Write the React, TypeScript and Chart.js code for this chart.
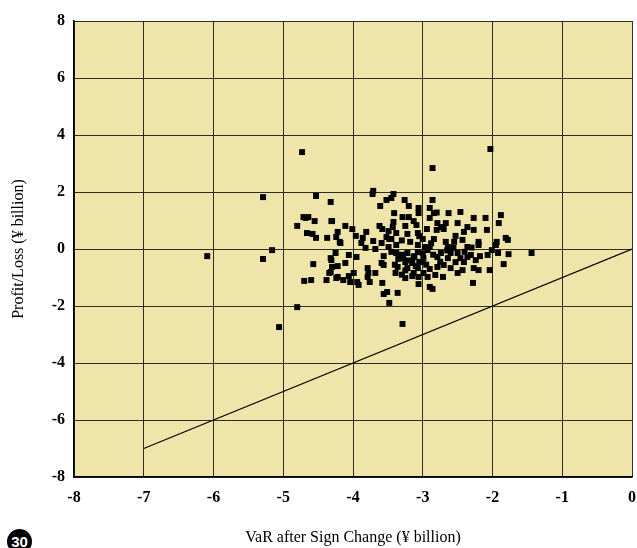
import { useEffect, useRef } from "react";
import { Chart, registerables } from "chart.js";

Chart.register(...registerables);

// VaR after sign change (x, ¥ billion) and daily profit/loss (y, ¥ billion)
const varAfterSignChange = [
  -6.09, -5.29, -5.16, -5.29, -5.06, -4.80, -4.73, -4.53, -4.71, -4.64,
  -4.68, -4.55, -4.80, -4.66, -4.58, -4.53, -4.57, -4.70, -4.60, -4.32,
  -4.31, -4.37, -4.22, -4.24, -4.19, -4.25, -4.31, -4.30, -4.22, -4.34,
  -4.24, -4.38, -2.03, -2.86, -1.44, -3.29,
  -3.71, -3.72, -3.42, -3.45, -3.52, -3.26, -2.86, -3.20, -3.61, -2.90,
  -3.06, -3.06, -3.41, -2.84, -2.80, -2.46, -2.63, -1.88, -2.90, -3.29,
  -3.20, -2.27, -2.10, -3.13, -3.42, -2.50, -1.91, -2.79, -2.67, -4.30,
  -3.09, -3.62, -3.25, -3.43, -2.74, -4.11, -4.01, -3.58, -2.36, -2.27,
  -2.08, -2.41, -3.81, -3.49, -3.38, -3.22, -3.07, -2.94, -2.80, -2.70,
  -3.96, -3.86, -3.52, -3.45, -3.00, -2.84, -2.53, -2.43, -1.81, -1.94,
  -4.18, -3.71, -3.59, -3.48, -3.88, -2.67, -2.20, -2.20, -1.95, -3.82,
  -3.68, -3.49, -3.38, -3.07, -2.97, -2.90, -2.64, -2.56, -2.36, -4.32,
  -3.95, -4.06, -3.56, -3.38, -3.22, -3.07, -2.93, -2.74, -2.60, -2.50,
  -2.31, -2.18, -2.07, -1.92, -1.77, -2.01, -3.13, -3.28, -2.99, -2.79,
  -2.64, -2.46, -2.36, -2.24, -4.11, -3.59, -3.56, -3.25, -3.15, -3.00,
  -2.53, -2.41, -1.84, -3.36, -3.22, -3.07, -2.79, -2.70, -2.60, -2.43,
  -2.27, -2.20, -2.04, -3.79, -4.32, -3.78, -3.68, -3.99, -4.06, -4.22,
  -3.39, -3.13, -2.99, -2.82, -2.50, -3.79, -3.25, -3.06, -2.93, -2.71,
  -4.14, -4.04, -3.94, -3.92, -3.76, -3.58, -3.06, -2.28, -2.90, -2.86,
  -3.51, -3.56, -3.36, -3.48, -1.78,
  -3.30, -3.20, -3.10, -3.25, -3.15, -3.05, -2.95, -3.35, -3.40, -3.30,
  -2.85, -2.75, -3.00, -2.90, -3.12, -3.45, -3.18, -2.88, -2.65, -2.55,
  -2.40, -2.30, -3.05, -3.30,
];

const profitLoss = [
  -0.25, 1.82, -0.04, -0.35, -2.74, -2.04, 3.40, 1.86, 1.12, 1.12,
  1.09, 0.98, 0.81, 0.56, 0.53, 0.39, -0.53, -1.12, -1.09, 1.65,
  0.98, 0.39, 0.60, 0.42, 0.25, -0.14, -0.39, -0.63, -0.60, -0.84,
  -1.02, -1.09, 3.51, 2.84, -0.14, -2.63,
  2.04, 1.93, 1.93, 1.79, 1.72, 1.72, 1.72, 1.51, 1.51, 1.44,
  1.44, 1.26, 1.26, 1.26, 1.28, 1.30, 1.26, 1.19, 1.09, 1.12,
  1.12, 1.09, 1.09, 0.98, 0.95, 0.91, 0.91, 0.91, 0.91, 0.98,
  0.84, 0.81, 0.81, 0.77, 0.77, 0.81, 0.70, 0.70, 0.77, 0.67,
  0.67, 0.60, 0.60, 0.63, 0.56, 0.53, 0.56, 0.70, 0.67, 0.70,
  0.46, 0.39, 0.42, 0.35, 0.35, 0.35, 0.46, 0.32, 0.39, 0.25,
  0.21, 0.28, 0.21, 0.35, 0.21, 0.25, 0.25, 0.14, 0.14, 0.04,
  0.00, 0.07, 0.14, 0.14, 0.07, 0.07, 0.07, 0.04, 0.07, -0.32,
  -0.28, -0.21, -0.25, -0.14, -0.14, -0.11, -0.04, -0.14, -0.14, -0.14,
  -0.21, -0.25, -0.21, -0.14, -0.18, -0.04, -0.28, -0.32, -0.32, -0.28,
  -0.32, -0.32, -0.28, -0.39, -0.49, -0.49, -0.56, -0.46, -0.49, -0.46,
  -0.46, -0.46, -0.53, -0.63, -0.67, -0.67, -0.63, -0.56, -0.67, -0.74,
  -0.67, -0.74, -0.74, -0.67, -0.81, -0.84, -0.84, -0.84, -0.95, -0.98,
  -0.84, -0.84, -0.84, -0.91, -0.84, -0.98, -1.02, -0.98, -0.98, -0.98,
  -1.09, -1.16, -1.16, -1.26, -1.16, -1.19, -1.23, -1.19, -1.33, -1.40,
  -1.51, -1.58, -1.54, -1.89, 0.32,
  -0.20, -0.40, -0.60, -0.75, -0.95, -0.45, -0.55, -0.35, -0.55, -0.90,
  -0.20, -0.45, -0.15, -0.70, -0.25, -0.10, 0.25, 0.20, -0.05, 0.25,
  -0.10, 0.05, 0.45, 0.30,
];

// 45-degree reference line (P/L = VaR)
const diagonalX = [-7, 0];
const diagonalY = [-7, 0];

const xTickValues = [-8, -7, -6, -5, -4, -3, -2, -1, 0];
const yTickValues = [-8, -6, -4, -2, 0, 2, 4, 6, 8];

const xTitle = "VaR after Sign Change (¥ billion)";
const yTitle = "Profit/Loss (¥ billion)";
const badgeText = "30";

const plotBg = {
  id: "plotBg",
  beforeDraw(chart: any) {
    const { ctx, chartArea } = chart;
    ctx.save();
    ctx.fillStyle = "#EFE5AA";
    ctx.fillRect(chartArea.left, chartArea.top, chartArea.right - chartArea.left, chartArea.bottom - chartArea.top);
    ctx.restore();
  },
};

export default function App() {
  const ref = useRef<HTMLCanvasElement | null>(null);

  useEffect(() => {
    if (!ref.current) return;
    const points = varAfterSignChange.map((x, i) => ({ x, y: profitLoss[i] }));
    const line = diagonalX.map((x, i) => ({ x, y: diagonalY[i] }));
    const tickFont = { family: "'Liberation Serif', serif", size: 16, weight: "bold" as const };
    const titleFont = { family: "'Liberation Serif', serif", size: 16, weight: "normal" as const };
    const chart = new Chart(ref.current, {
      type: "scatter",
      data: {
        datasets: [
          {
            data: line,
            showLine: true,
            borderColor: "#000",
            borderWidth: 1.2,
            pointRadius: 0,
            fill: false,
          } as any,
          {
            data: points,
            pointStyle: "rect",
            pointRadius: 4.2,
            pointBorderWidth: 0,
            backgroundColor: "#000",
            borderColor: "#000",
          } as any,
        ],
      },
      options: {
        responsive: false,
        animation: false,
        layout: { padding: { top: 21, right: 5, left: 0, bottom: 0 } },
        plugins: { legend: { display: false }, tooltip: { enabled: false } },
        scales: {
          x: {
            type: "linear",
            min: -8,
            max: 0,
            afterBuildTicks: (s: any) => {
              s.ticks = xTickValues.map((v) => ({ value: v }));
            },
            afterFit: (s: any) => {
              s.height = 71;
              s.paddingRight = 0;
              s.paddingLeft = 0;
            },
            ticks: { color: "#000", font: tickFont, padding: 11, maxRotation: 0 },
            grid: { color: "rgba(0,0,0,0.8)", lineWidth: 1, drawTicks: false },
            border: { display: true, color: "#000", width: 1.5 },
            title: { display: true, text: xTitle, color: "#000", font: titleFont, padding: { top: 0, bottom: 1 } },
          },
          y: {
            type: "linear",
            min: -8,
            max: 8,
            afterBuildTicks: (s: any) => {
              s.ticks = yTickValues.map((v) => ({ value: v }));
            },
            afterFit: (s: any) => {
              s.width = 74;
              s.paddingTop = 0;
              s.paddingBottom = 0;
            },
            ticks: { color: "#000", font: tickFont, padding: 9 },
            grid: { color: "rgba(0,0,0,0.8)", lineWidth: 1, drawTicks: false },
            border: { display: true, color: "#000", width: 1.5 },
            title: { display: true, text: yTitle, color: "#000", font: titleFont, padding: { top: 9, bottom: 0 } },
          },
        },
      },
      plugins: [plotBg],
    });
    return () => chart.destroy();
  }, []);

  return (
    <div style={{ position: "absolute", left: 0, top: 0, width: 637, height: 548, overflow: "hidden", background: "#fff" }}>
      <canvas ref={ref} width={637} height={548} style={{ display: "block" }} />
      <div
        style={{
          position: "absolute",
          left: 7,
          top: 529,
          width: 25,
          height: 25,
          borderRadius: "50%",
          background: "#000",
          color: "#fff",
          fontFamily: "'Liberation Sans', sans-serif",
          fontWeight: "bold",
          fontSize: 15,
          lineHeight: "25px",
          textAlign: "center",
        }}
      >
        {badgeText}
      </div>
    </div>
  );
}
